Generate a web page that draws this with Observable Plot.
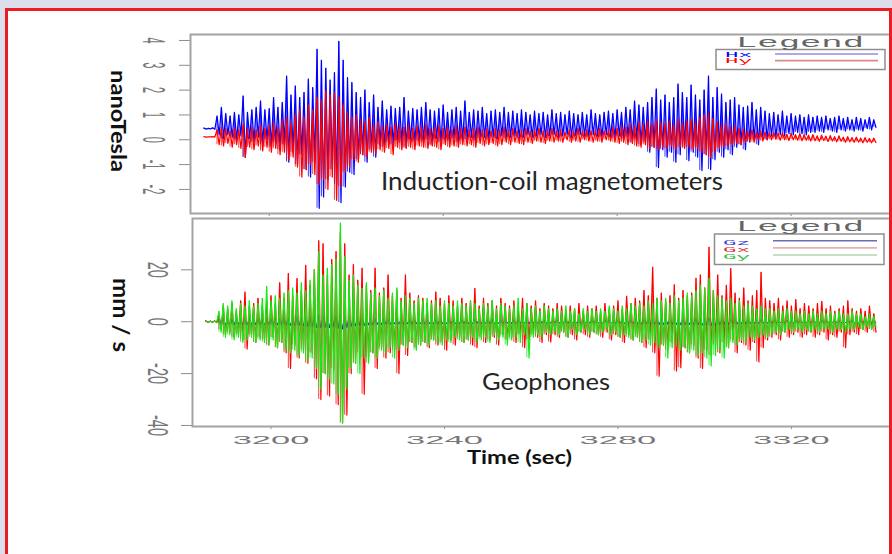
<!DOCTYPE html>
<html>
<head>
<meta charset="utf-8">
<script src="https://cdn.jsdelivr.net/npm/d3@7"></script>
<script src="https://cdn.jsdelivr.net/npm/@observablehq/plot@0.6"></script>
<style>
  html, body { margin:0; padding:0; width:892px; height:554px; overflow:hidden; background:#dcdfeb; }
  #card { position:absolute; left:5px; top:8px; width:887px; height:600px; background:#ffffff; }
  #edge { position:absolute; left:5px; top:8px; width:887px; height:600px; box-sizing:border-box; border:3px solid #ec1c24; z-index:20; pointer-events:none; }
  #chart { position:absolute; left:0; top:0; width:892px; height:554px; z-index:5; }
  text { font-variant-ligatures: none; }
</style>
</head>
<body>
<div id="card"></div>
<div id="chart"></div>
<div id="edge"></div>
<script>
// ---- record start (seconds) : one hi / lo pair per second ----
const T0 = 3185;

// ---- tick values ----
const X_TICKS = [3200, 3240, 3280, 3320];
const NT_TICKS = [4, 3, 2, 1, 0, -1, -2];
const MMS_TICKS = [20, 0, -20, -40];

// ---- series names / colours ----
const MAG_SERIES = ["Hx", "Hy"];
const MAG_COLORS = ["#0000ff", "#ff0000"];
const MAG_KEY_COLORS = ["#8f8fe4", "#d98b8b"];
const GEO_SERIES = ["Gz", "Gx", "Gy"];
const GEO_COLORS = ["#0000ff", "#ff0000", "#12ec12"];
const GEO_LABEL_COLORS = ["#3a3ad6", "#e23030", "#2fc02f"];
const GEO_KEY_COLORS = ["#6b6bb3", "#eab0b0", "#afd8af"];

// ---- Induction-coil magnetometer Hx (nT): per-second peak / trough ----
const HX_HI = [
  0.47, 0.46, 0.48, 0.95, 1.3, 1.05, 0.95, 1.1, 1.0, 1.76,
  1.1, 1.2, 1.3, 1.56, 1.2, 1.25, 1.7, 1.3, 1.5, 2.56,
  1.8, 2.16, 1.7, 1.9, 2.44, 2.1, 3.64, 3.2, 2.88, 2.4,
  2.7, 3.96, 3.2, 2.5, 2.3, 1.9, 1.7, 2.0, 1.5, 1.8,
  1.3, 1.56, 1.2, 1.35, 1.25, 1.3, 1.7, 1.15, 1.25, 1.2,
  1.3, 1.5, 1.2, 1.15, 1.25, 1.4, 1.1, 1.2, 1.3, 1.15,
  1.56, 1.1, 1.2, 1.15, 1.3, 1.05, 1.15, 1.2, 1.1, 1.3,
  1.1, 1.15, 1.05, 1.2, 1.1, 1.0, 1.15, 1.05, 1.1, 1.0,
  1.2, 1.05, 1.1, 1.0, 1.15, 1.05, 1.0, 1.1, 1.0, 1.2,
  1.05, 1.0, 1.1, 1.15, 1.05, 1.2, 1.1, 1.3, 1.2, 1.56,
  1.4, 1.3, 1.5, 1.7, 2.04, 1.6, 1.8, 1.5, 1.7, 2.24,
  1.9, 1.7, 2.2, 1.8, 1.6, 2.0, 2.56, 1.7, 2.1, 1.84,
  1.5, 1.6, 1.7, 1.4, 1.3, 1.35, 1.5, 1.2, 1.3, 1.15,
  1.05, 1.1, 1.0, 1.15, 0.95, 1.05, 0.95, 1.0, 0.9, 1.0,
  0.9, 0.95, 0.9, 0.95, 0.85, 0.9, 0.95, 0.85, 0.9, 0.8,
  0.9, 0.85, 0.8, 0.9, 0.8
];
const HX_LO = [
  0.43, 0.44, 0.42, 0.2, 0.05, 0.2, 0.1, 0.0, 0.15, -0.71,
  0.05, -0.1, 0.1, -0.2, 0.0, -0.3, -0.1, -0.4, -0.2, -0.9,
  -0.5, -1.0, -0.6, -1.2, -1.5, -0.9, -2.76, -2.3, -1.6, -1.2,
  -1.8, -2.53, -1.9, -1.3, -1.4, -0.8, -0.6, -0.9, -0.4, -0.7,
  -0.2, -0.3, -0.1, -0.2, -0.05, -0.15, -0.3, 0.0, -0.1, -0.05,
  -0.1, 0.0, -0.2, 0.05, -0.1, 0.0, -0.05, 0.05, -0.1, 0.0,
  0.0, 0.1, -0.05, 0.05, 0.1, 0.0, 0.1, 0.05, 0.15, 0.05,
  0.1, 0.15, 0.05, 0.1, 0.2, 0.1, 0.15, 0.2, 0.1, 0.15,
  0.2, 0.1, 0.15, 0.2, 0.1, 0.15, 0.2, 0.15, 0.1, 0.2,
  0.15, 0.1, 0.2, 0.1, 0.05, 0.15, 0.0, 0.1, -0.1, 0.0,
  -0.2, -0.1, -0.5, -0.3, -1.12, -0.4, -0.7, -0.5, -0.9, -0.6,
  -0.3, -0.84, -0.5, -0.7, -1.24, -0.6, -1.2, -0.8, -0.5, -0.7,
  -0.4, -0.6, -0.3, -0.2, -0.4, -0.1, 0.0, -0.2, 0.1, 0.0,
  0.15, 0.1, 0.2, 0.15, 0.25, 0.2, 0.3, 0.25, 0.2, 0.3,
  0.3, 0.35, 0.3, 0.4, 0.35, 0.3, 0.4, 0.35, 0.4, 0.35,
  0.4, 0.35, 0.45, 0.4, 0.5
];

// ---- Hy (nT) ----
const HY_HI = [
  0.13, 0.12, 0.13, 0.4, 0.5, 0.45, 0.35, 0.5, 0.4, 0.6,
  0.45, 0.5, 0.4, 0.6, 0.45, 0.55, 0.7, 0.5, 0.8, 0.9,
  0.7, 1.0, 1.2, 0.9, 1.4, 1.2, 1.7, 1.6, 1.96, 1.8,
  1.9, 1.7, 1.4, 1.1, 0.9, 1.0, 0.8, 0.7, 0.9, 0.6,
  0.7, 0.55, 0.6, 0.5, 0.65, 0.55, 0.5, 0.6, 0.45, 0.55,
  0.5, 0.6, 0.45, 0.5, 0.55, 0.45, 0.5, 0.4, 0.55, 0.45,
  0.5, 0.4, 0.45, 0.5, 0.4, 0.45, 0.35, 0.45, 0.4, 0.5,
  0.4, 0.45, 0.35, 0.4, 0.45, 0.35, 0.4, 0.45, 0.35, 0.4,
  0.45, 0.35, 0.4, 0.3, 0.4, 0.35, 0.45, 0.35, 0.4, 0.35,
  0.4, 0.45, 0.35, 0.4, 0.5, 0.45, 0.55, 0.5, 0.6, 0.55,
  0.7, 0.6, 0.75, 0.65, 0.8, 0.7, 0.65, 0.75, 0.6, 0.8,
  0.7, 0.75, 0.8, 0.7, 0.9, 1.0, 1.08, 0.85, 0.7, 0.6,
  0.65, 0.5, 0.55, 0.45, 0.4, 0.35, 0.4, 0.3, 0.35, 0.3,
  0.28, 0.3, 0.25, 0.28, 0.22, 0.25, 0.2, 0.24, 0.2, 0.18,
  0.2, 0.15, 0.18, 0.14, 0.16, 0.12, 0.15, 0.1, 0.12, 0.08,
  0.1, 0.06, 0.08, 0.05, 0.06
];
const HY_LO = [
  0.11, 0.12, 0.11, -0.2, -0.25, -0.15, -0.3, -0.2, -0.35, -0.7,
  -0.3, -0.4, -0.25, -0.45, -0.3, -0.5, -0.35, -0.6, -0.5, -0.8,
  -0.7, -1.1, -1.5, -1.2, -1.0, -1.4, -1.8, -1.6, -2.0, -1.5,
  -2.44, -1.9, -1.3, -1.1, -0.8, -0.9, -0.6, -0.7, -0.5, -0.55,
  -0.4, -0.5, -0.35, -0.6, -0.3, -0.4, -0.35, -0.3, -0.4, -0.25,
  -0.3, -0.35, -0.25, -0.3, -0.4, -0.2, -0.3, -0.25, -0.3, -0.2,
  -0.25, -0.2, -0.3, -0.15, -0.25, -0.2, -0.15, -0.25, -0.2, -0.1,
  -0.2, -0.1, -0.15, -0.2, -0.1, -0.15, -0.05, -0.1, -0.15, -0.05,
  -0.1, -0.05, -0.1, 0.0, -0.1, -0.05, -0.1, 0.0, -0.05, -0.1,
  -0.05, -0.1, 0.0, -0.05, -0.1, -0.15, -0.1, -0.2, -0.15, -0.25,
  -0.3, -0.2, -0.35, -0.3, -0.4, -0.3, -0.35, -0.25, -0.4, -0.3,
  -0.35, -0.3, -0.4, -0.35, -0.5, -0.6, -0.72, -0.5, -0.35, -0.3,
  -0.25, -0.2, -0.15, -0.2, -0.1, -0.05, -0.1, 0.0, -0.05, 0.0,
  0.0, 0.02, -0.02, 0.0, -0.03, 0.0, -0.02, -0.04, -0.02, -0.05,
  -0.04, -0.06, -0.03, -0.07, -0.05, -0.08, -0.06, -0.1, -0.08, -0.1,
  -0.09, -0.12, -0.1, -0.12, -0.11
];

// ---- Geophone Gz (mm/s) ----
const GZ_HI = [
  0.2, 0.2, 0.3, 1.0, 1.5, 1.2, 1.0, 1.3, 1.1, 1.4,
  1.2, 1.0, 1.3, 1.1, 1.2, 1.0, 1.4, 1.2, 1.5, 1.6,
  1.5, 1.8, 1.6, 2.0, 1.8, 2.2, 2.6, 2.4, 2.2, 2.5,
  2.3, 2.8, 2.4, 2.0, 1.8, 1.6, 1.5, 1.4, 1.3, 1.2,
  1.1, 1.2, 1.0, 1.1, 0.9, 1.0, 1.1, 0.9, 1.0, 0.8,
  0.9, 1.0, 0.8, 0.9, 1.0, 0.8, 0.9, 0.7, 0.9, 0.8,
  0.8, 0.7, 0.9, 0.8, 0.7, 0.8, 0.9, 0.7, 0.8, 0.7,
  0.8, 0.7, 0.6, 0.8, 0.7, 0.6, 0.7, 0.8, 0.6, 0.7,
  0.6, 0.7, 0.6, 0.5, 0.7, 0.6, 0.5, 0.6, 0.7, 0.5,
  0.6, 0.5, 0.7, 0.6, 0.5, 0.7, 0.6, 0.8, 0.7, 0.9,
  0.8, 1.0, 0.9, 1.1, 1.0, 1.2, 1.1, 1.0, 1.2, 1.1,
  1.0, 1.2, 1.1, 1.3, 1.2, 1.4, 1.5, 1.3, 1.2, 1.1,
  1.0, 1.1, 0.9, 1.0, 0.8, 0.9, 0.8, 0.7, 0.8, 0.7,
  0.6, 0.7, 0.6, 0.5, 0.6, 0.5, 0.6, 0.5, 0.4, 0.5,
  0.5, 0.4, 0.5, 0.4, 0.5, 0.4, 0.3, 0.4, 0.5, 0.4,
  0.3, 0.4, 0.3, 0.4, 0.3
];
const GZ_LO = [
  -0.2, -0.2, -0.3, -0.9, -1.3, -1.1, -1.2, -1.0, -1.2, -1.3,
  -1.1, -1.2, -1.0, -1.3, -1.1, -1.2, -1.3, -1.1, -1.4, -1.5,
  -1.6, -1.4, -1.7, -1.9, -2.0, -2.3, -2.5, -2.2, -2.4, -2.1,
  -2.6, -2.9, -2.3, -1.9, -1.7, -1.5, -1.6, -1.3, -1.4, -1.1,
  -1.2, -1.0, -1.1, -0.9, -1.0, -1.1, -0.9, -1.0, -0.8, -0.9,
  -1.0, -0.8, -0.9, -1.0, -0.8, -0.9, -0.7, -0.9, -0.8, -0.7,
  -0.8, -0.9, -0.7, -0.8, -0.7, -0.9, -0.8, -0.7, -0.8, -0.6,
  -0.7, -0.8, -0.6, -0.7, -0.8, -0.6, -0.7, -0.6, -0.7, -0.6,
  -0.5, -0.6, -0.7, -0.6, -0.5, -0.6, -0.7, -0.5, -0.6, -0.5,
  -0.6, -0.7, -0.5, -0.6, -0.7, -0.6, -0.8, -0.7, -0.8, -0.9,
  -1.0, -0.9, -1.1, -1.0, -1.2, -1.1, -1.0, -1.2, -1.1, -1.3,
  -1.2, -1.1, -1.3, -1.2, -1.4, -1.3, -1.6, -1.4, -1.2, -1.1,
  -1.0, -0.9, -1.0, -0.8, -0.9, -0.8, -0.7, -0.8, -0.7, -0.6,
  -0.7, -0.6, -0.5, -0.6, -0.5, -0.6, -0.5, -0.4, -0.5, -0.4,
  -0.5, -0.4, -0.5, -0.4, -0.3, -0.4, -0.5, -0.4, -0.3, -0.4,
  -0.4, -0.3, -0.4, -0.3, -0.3
];

// ---- Gx (mm/s) ----
const GX_HI = [
  0.3, 0.2, 0.3, 3, 6, 5, 7, 4, 8, 11.4,
  6, 7, 9, 6, 8, 10, 7, 15, 9, 18.6,
  10, 16.6, 12, 21.7, 14, 20, 31.2, 30, 18, 24,
  27, 34.5, 30, 18, 22, 16, 20.6, 14, 12, 20.6,
  11, 13, 18, 10, 12, 9, 18, 11, 8, 10,
  9, 7, 8, 11.4, 9, 7, 10, 8, 6, 9,
  7, 8, 12.8, 6, 9, 7, 8, 6, 9, 7,
  6, 8, 5, 9, 7, 6, 8, 5, 7, 6,
  5, 7, 6, 4, 6, 5, 7, 4, 6, 5,
  6, 4, 7, 5, 6, 8, 5, 9.8, 7, 9,
  8, 12, 10, 21, 9, 11, 8, 10, 14.2, 9,
  12, 10, 11, 16.7, 18, 13, 28.7, 12, 18, 10,
  14, 20.5, 11, 9, 13, 8, 10, 12, 19, 9,
  8, 7, 9, 6, 8, 6, 8.5, 5, 7, 6,
  5, 7, 7.8, 5, 6, 4, 5, 6, 8, 5,
  4, 5, 4, 6, 3
];
const GX_LO = [
  -0.3, -0.2, -0.3, -3, -5, -4, -6, -5, -7, -10.5,
  -5, -8, -6, -7, -9, -6, -10, -8, -12, -18,
  -9, -14, -11, -16, -12, -22, -30, -20, -28.6, -18,
  -32, -39, -36, -20, -16, -12, -28, -14, -12, -18,
  -10, -14, -12, -11, -20, -9, -13, -8, -10, -9,
  -8, -10, -7, -9, -8, -11, -7, -9, -6, -8,
  -7, -9, -10, -6, -8, -7, -6, -9, -5, -7,
  -6, -8, -5, -10, -7, -5, -6, -8, -5, -7.8,
  -5, -6, -4, -6, -5, -7, -4, -5, -6, -4,
  -5, -6, -4, -7, -5, -6, -8, -5, -7, -6,
  -8, -10, -7, -12, -21, -9, -11, -8, -19, -17.7,
  -10, -12, -9, -14, -18, -11, -13, -9, -12, -8,
  -10, -7, -12, -8, -9, -11, -8, -15.5, -10, -7,
  -6, -5, -7, -4, -6, -5, -4, -6, -5, -4,
  -6, -5, -4, -7, -5, -6, -4, -10, -5, -4,
  -5, -3, -4, -3, -4
];

// ---- Gy (mm/s) ----
const GY_HI = [
  0.2, 0.2, 0.2, 4, 7, 6, 8, 5, 7, 6,
  8, 6, 7, 9, 13.6, 8, 10, 9, 11, 12,
  13, 11, 15, 12, 16, 20, 27, 18, 20.6, 22,
  24, 38, 25, 16, 18, 14, 12.8, 15, 11, 13,
  10, 12, 9, 11, 13, 8, 10, 9, 7, 9,
  8, 9, 7, 8, 6, 8, 7, 6, 8, 7,
  6, 8, 7, 5, 7, 6, 8, 5, 7, 6,
  5, 6, 9, 5, 7, 5, 6, 4, 6, 5,
  4, 5, 4, 6, 4, 5, 3, 5, 4, 5,
  4, 5, 4, 6, 5, 4, 6, 5, 7, 6,
  7, 6, 8, 7, 9, 8, 9, 7, 10, 8,
  9, 11, 10, 12, 14, 13, 16.7, 12, 10, 9,
  8, 9, 7, 8, 6, 7, 6, 5, 6, 5,
  5, 4, 5, 4, 5, 4, 4, 3, 4, 3,
  4, 3, 4, 3, 4, 3, 4, 3, 3, 4,
  3, 3, 2, 3, 2
];
const GY_LO = [
  -0.2, -0.2, -0.2, -4, -6, -5, -7, -6, -8, -7,
  -6, -8, -7, -8, -9, -7, -10, -8, -11, -12,
  -11, -13, -12, -15, -14, -18, -26, -20, -22, -24,
  -28, -39, -26, -18, -16, -20, -14, -16, -12, -14,
  -11, -12, -10, -14, -11, -9, -10, -8, -11, -9,
  -8, -9, -7, -8, -9, -7, -8, -6, -7, -8,
  -7, -6, -8, -7, -6, -8, -5, -7, -6, -9,
  -7, -6, -8, -5, -14, -6, -5, -6, -4, -5,
  -4, -5, -4, -6, -3, -5, -4, -3, -5, -4,
  -5, -4, -3, -5, -4, -6, -5, -6, -7, -6,
  -8, -7, -9, -8, -10, -9, -14, -10, -9, -11,
  -10, -12, -11, -13, -12, -14, -17, -13, -11, -14,
  -10, -8, -9, -7, -8, -6, -7, -6, -5, -6,
  -5, -4, -5, -4, -3, -4, -3, -4, -3, -4,
  -3, -4, -3, -3, -4, -3, -3, -4, -3, -3,
  -2, -3, -2, -3, -2
];

// ---- zig-zag traces (peak at t, trough at t+0.5) and per-second swing bars ----
function trace(name, hi, lo) {
  const pts = [];
  const n = Math.min(hi.length, lo.length);
  for (let i = 0; i < n; i++) {
    pts.push({series: name, t: T0 + i, v: hi[i]});
    pts.push({series: name, t: T0 + i + 0.5, v: lo[i]});
  }
  return pts;
}
function swings(name, hi, lo) {
  const n = Math.min(hi.length, lo.length);
  return Array.from({length: n}, (_, i) => ({series: name, t: T0 + i, hi: hi[i], lo: lo[i]}));
}
const hx = trace("Hx", HX_HI, HX_LO), hxS = swings("Hx", HX_HI, HX_LO);
const hy = trace("Hy", HY_HI, HY_LO), hyS = swings("Hy", HY_HI, HY_LO);
const gz = trace("Gz", GZ_HI, GZ_LO), gzS = swings("Gz", GZ_HI, GZ_LO);
const gx = trace("Gx", GX_HI, GX_LO), gxS = swings("Gx", GX_HI, GX_LO);
const gy = trace("Gy", GY_HI, GY_LO), gyS = swings("Gy", GY_HI, GY_LO);

const X_DOMAIN = [3181.9, 3345.15];
const SVG_STYLE = "position:absolute;left:0;top:0;background:transparent;overflow:visible;max-width:none;color:#8c8c8c;";

// stretch the Nth text mark horizontally (the source figure was stretched sideways)
function stretchTexts(svg, groupIndex, sx) {
  const g = svg.querySelectorAll('g[aria-label="text"]')[groupIndex];
  if (!g) return;
  g.querySelectorAll("text").forEach(el => {
    const tr = el.getAttribute("transform") || "";
    const m = tr.match(/translate\(\s*([-\d.e]+)[ ,]+([-\d.e]+)\s*\)/);
    let tx, ty;
    if (m) { tx = +m[1]; ty = +m[2]; }
    else {
      tx = +(el.getAttribute("x") || 0); ty = +(el.getAttribute("y") || 0);
      el.removeAttribute("x"); el.removeAttribute("y");
    }
    const r = tr.match(/rotate\(\s*([-\d.e]+)\s*\)/);
    el.setAttribute("transform", `translate(${tx},${ty}) scale(${sx},1)` + (r ? ` rotate(${r[1]})` : ""));
  });
}

function wave(pts, sw, color, width) {
  return [
    Plot.ruleX(sw, {x: "t", y1: "lo", y2: "hi", stroke: color, strokeWidth: 0.9, strokeOpacity: 0.85}),
    Plot.line(pts, {x: "t", y: "v", stroke: color, strokeWidth: width})
  ];
}

const chart = document.getElementById("chart");

// ---------------- top panel: magnetometers ----------------
const topPlot = Plot.plot({
  width: 900, height: 554,
  marginLeft: 190, marginRight: 0, marginTop: 34, marginBottom: 554 - 213,
  style: SVG_STYLE,
  x: {domain: X_DOMAIN, ticks: X_TICKS, tickSize: 3, tickFormat: () => "", label: null},
  y: {domain: [-2.97, 4.24], ticks: NT_TICKS, tickSize: 11, tickFormat: () => "", label: null},
  marks: [
    ...wave(hx, hxS, MAG_COLORS[0], 1.25),
    ...wave(hy, hyS, MAG_COLORS[1], 1.25),
    Plot.frame({stroke: "#a3a3a3", strokeWidth: 2}),
    Plot.text(NT_TICKS, {y: d => d, text: d => String(d), frameAnchor: "left", dx: -48, rotate: 90,
      lineAnchor: "bottom", textAnchor: "middle", fontSize: 11, fill: "#777777", fontFamily: "Liberation Sans, Arial, sans-serif"})
  ]
});
chart.appendChild(topPlot);
stretchTexts(topPlot, 0, 2.9);

// ---------------- bottom panel: geophones ----------------
const botPlot = Plot.plot({
  width: 900, height: 554,
  marginLeft: 192, marginRight: 0, marginTop: 218, marginBottom: 554 - 426,
  style: SVG_STYLE,
  x: {domain: X_DOMAIN, ticks: X_TICKS, tickSize: 3, tickFormat: () => "", label: null},
  y: {domain: [-40.4, 39.8], ticks: MMS_TICKS, tickSize: 11, tickFormat: () => "", label: null},
  marks: [
    ...wave(gz, gzS, GEO_COLORS[0], 1),
    ...wave(gx, gxS, GEO_COLORS[1], 1.2),
    ...wave(gy, gyS, GEO_COLORS[2], 1.2),
    Plot.frame({stroke: "#a3a3a3", strokeWidth: 2}),
    Plot.text(MMS_TICKS, {y: d => d, text: d => String(d), frameAnchor: "left", dx: -45, rotate: 90,
      lineAnchor: "bottom", textAnchor: "middle", fontSize: 14.5, fill: "#777777", fontFamily: "Liberation Sans, Arial, sans-serif"}),
    Plot.text(X_TICKS, {x: d => d, text: d => String(d), frameAnchor: "bottom", dy: 17.5,
      lineAnchor: "bottom", textAnchor: "middle", fontSize: 11.5, fill: "#777777", fontFamily: "Liberation Sans, Arial, sans-serif"})
  ]
});
chart.appendChild(botPlot);
stretchTexts(botPlot, 0, 2.05);
stretchTexts(botPlot, 1, 3.0);

// ---------------- overlay: labels & legends ----------------
const ov = d3.select(chart).append("svg")
  .attr("width", 892).attr("height", 554)
  .style("position", "absolute").style("left", "0").style("top", "0").style("overflow", "visible");

function fitText(sel, {x, y, text, len, size, weight = "normal", family = "Lato, 'Open Sans', sans-serif", fill = "#111", rotate = 0, anchor = "start"}) {
  return sel.append("text")
    .attr("transform", `translate(${x},${y})` + (rotate ? ` rotate(${rotate})` : ""))
    .attr("font-family", family).attr("font-size", size).attr("font-weight", weight)
    .attr("fill", fill).attr("text-anchor", anchor)
    .attr("textLength", len).attr("lengthAdjust", "spacingAndGlyphs")
    .text(text);
}

// axis titles and panel captions
fitText(ov, {x: 111, y: 70, text: "nanoTesla", len: 102, size: 21.5, weight: "bold", rotate: 90});
fitText(ov, {x: 113, y: 278, text: "mm / s", len: 74, size: 23, weight: "bold", rotate: 90});
fitText(ov, {x: 467, y: 463.5, text: "Time (sec)", len: 105, size: 19.5, weight: "bold"});
fitText(ov, {x: 381, y: 190, text: "Induction-coil magnetometers", len: 342, size: 25, fill: "#242424"});
fitText(ov, {x: 482, y: 390, text: "Geophones", len: 128, size: 24, fill: "#242424"});

// legends
function legend(box, titleY, names, colors, keyColors, labelY0, lineY0, step, labelX, lineX1, lineX2) {
  ov.append("rect").attr("x", box[0]).attr("y", box[1]).attr("width", box[2]).attr("height", box[3])
    .attr("fill", "#ffffff").attr("stroke", "#8e8e8e").attr("stroke-width", 1.5);
  fitText(ov, {x: 736, y: titleY, text: "Legend", len: 128, size: 14, family: "'Liberation Mono', 'DejaVu Sans Mono', monospace", fill: "#666"});
  names.forEach((n, i) => {
    fitText(ov, {x: labelX, y: labelY0 + i * step, text: n, len: 27, size: 7.5,
      family: "'Liberation Mono', 'DejaVu Sans Mono', monospace", fill: colors[i]});
    ov.append("line").attr("x1", lineX1).attr("x2", lineX2)
      .attr("y1", lineY0 + i * step).attr("y2", lineY0 + i * step)
      .attr("stroke", keyColors[i]).attr("stroke-width", 1.6);
  });
}
legend([716, 49.5, 169, 20], 46.7, MAG_SERIES, MAG_COLORS, MAG_KEY_COLORS, 56.5, 54, 6.6, 725, 775, 878);
legend([714.5, 234, 169.5, 30.5], 230.7, GEO_SERIES, GEO_LABEL_COLORS, GEO_KEY_COLORS, 244.5, 240.8, 7.1, 723, 773, 877);

// sanity check on array lengths
const lens = [HX_HI, HX_LO, HY_HI, HY_LO, GZ_HI, GZ_LO, GX_HI, GX_LO, GY_HI, GY_LO].map(a => a.length);
if (lens.some(l => l !== 155)) throw new Error("length mismatch: " + lens.join(","));
</script>
</body>
</html>
